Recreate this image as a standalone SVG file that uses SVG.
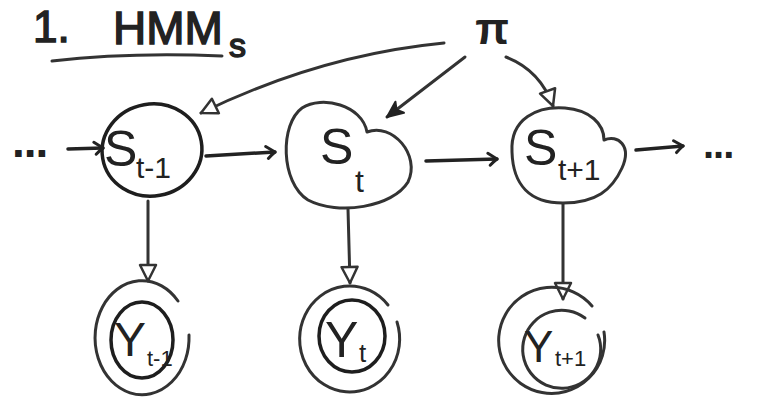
<svg xmlns="http://www.w3.org/2000/svg" width="759" height="406" viewBox="0 0 759 406">
<style>
.n{fill:none;stroke:#333;stroke-width:3;stroke-linecap:round;stroke-linejoin:round}
.in{fill:none;stroke:#1e1e1e;stroke-width:3.5}
.c{fill:none;stroke:#333;stroke-width:3;stroke-linecap:round}
.h{fill:none;stroke:#222;stroke-width:3.5;stroke-linecap:round}
.t{font-family:"Liberation Sans",Arial,sans-serif;fill:#222}
.big{font-size:50px}
.ttl{stroke:#222;stroke-width:1.5}
</style>
<defs>
<marker id="hook" viewBox="0 0 12 14" refX="10" refY="7" markerWidth="12" markerHeight="14" orient="auto" markerUnits="userSpaceOnUse" overflow="visible">
<path d="M1,1 L10,7 Q6,10 3,13" fill="none" stroke="#222" stroke-width="3" stroke-linecap="round" stroke-linejoin="round"/>
</marker>
<marker id="tri" viewBox="0 0 20 20" refX="18" refY="10" markerWidth="20" markerHeight="20" orient="auto" markerUnits="userSpaceOnUse">
<path d="M2,2 L18,10 L2,18 Z" fill="#fff" stroke="#333" stroke-width="2.5" stroke-linejoin="round"/>
</marker>
<marker id="solid" viewBox="0 0 20 20" refX="18" refY="10" markerWidth="20" markerHeight="20" orient="auto" markerUnits="userSpaceOnUse">
<path d="M2,3 L18,10 L2,17 L6,10 Z" fill="#222" stroke="#222" stroke-width="2" stroke-linejoin="round"/>
</marker>
</defs>

<g id="title">
<text class="t ttl" x="33" y="42" font-size="44">1.<tspan x="113" y="44" font-size="46">HMM</tspan><tspan x="229" y="57" font-size="34">s</tspan></text>
<path class="c" d="M52,61 Q130,52 222,56"/>
</g>

<g id="connectors">
<path class="h" d="M68,149 L103,148" marker-end="url(#hook)"/>
<path class="h" d="M206,156 L275,152" marker-end="url(#hook)"/>
<path class="h" d="M426,161 L497,159" marker-end="url(#hook)"/>
<path class="h" d="M636,150 L683,146" marker-end="url(#hook)"/>
<path class="c" d="M444,43 Q320,55 201,113" marker-end="url(#tri)"/>
<path class="c" d="M465,57 L387,117" marker-end="url(#solid)"/>
<path class="c" d="M506,57 Q540,70 553,106" marker-end="url(#tri)"/>
<path class="c" d="M148,201 L148,281" marker-end="url(#tri)"/>
<path class="c" d="M348,209 L350,283" marker-end="url(#tri)"/>
<path class="c" d="M563,204 L563,299" marker-end="url(#tri)"/>
</g>

<g id="dotsL"><text class="t" x="12" y="157" font-size="46" font-weight="bold" letter-spacing="-1">...</text></g>
<g id="dotsR"><text class="t" x="703" y="158" font-size="40" font-weight="bold" letter-spacing="-1">...</text></g>

<g id="pi"><text class="t" x="492" y="44" font-size="44" text-anchor="middle" font-weight="bold">π</text></g>

<g id="S_tm1">
<ellipse class="in" cx="152" cy="150" rx="50" ry="46" transform="rotate(-10 152 150)"/>
<text class="t big" x="104" y="166">S<tspan x="136" y="178" font-size="30">t-1</tspan></text>
</g>

<g id="S_t">
<path class="n" d="M367,132 C362,105 322,95 302,108 C280,124 280,182 308,200 C338,216 393,207 408,182 C421,155 392,122 367,132 Z"/>
<text class="t big" x="320" y="164">S<tspan x="355" y="192" font-size="32">t</tspan></text>
</g>

<g id="S_tp1">
<path class="n" d="M512,152 C510,118 538,106 565,108 C590,110 604,124 604,140 C618,134 632,146 622,168 C612,190 596,203 563,203 C530,203 513,185 512,152 Z"/>
<text class="t big" x="524" y="165">S<tspan x="558" y="180" font-size="30">t+1</tspan></text>
</g>

<g id="Y_tm1">
<path class="n" d="M178,301 A47 57 0 1 0 189,335"/>
<ellipse class="in" cx="142" cy="340" rx="31" ry="38"/>
<text class="t" x="114" y="356" font-size="48">Y<tspan x="147" y="366" font-size="22">t-1</tspan></text>
</g>

<g id="Y_t">
<path class="n" d="M388,305 A50 53 0 1 0 397,322"/>
<ellipse class="in" cx="352" cy="336" rx="33" ry="36"/>
<text class="t" x="325" y="357" font-size="50">Y<tspan x="359" y="362" font-size="26">t</tspan></text>
</g>

<g id="Y_tp1">
<path class="n" d="M592,306 A53 53 0 1 0 604,332"/>
<path class="n" d="M585,318 A39 39 0 1 0 598,335"/>
<text class="t" x="524" y="362" font-size="44">Y<tspan x="555" y="366" font-size="22">t+1</tspan></text>
</g>
</svg>
